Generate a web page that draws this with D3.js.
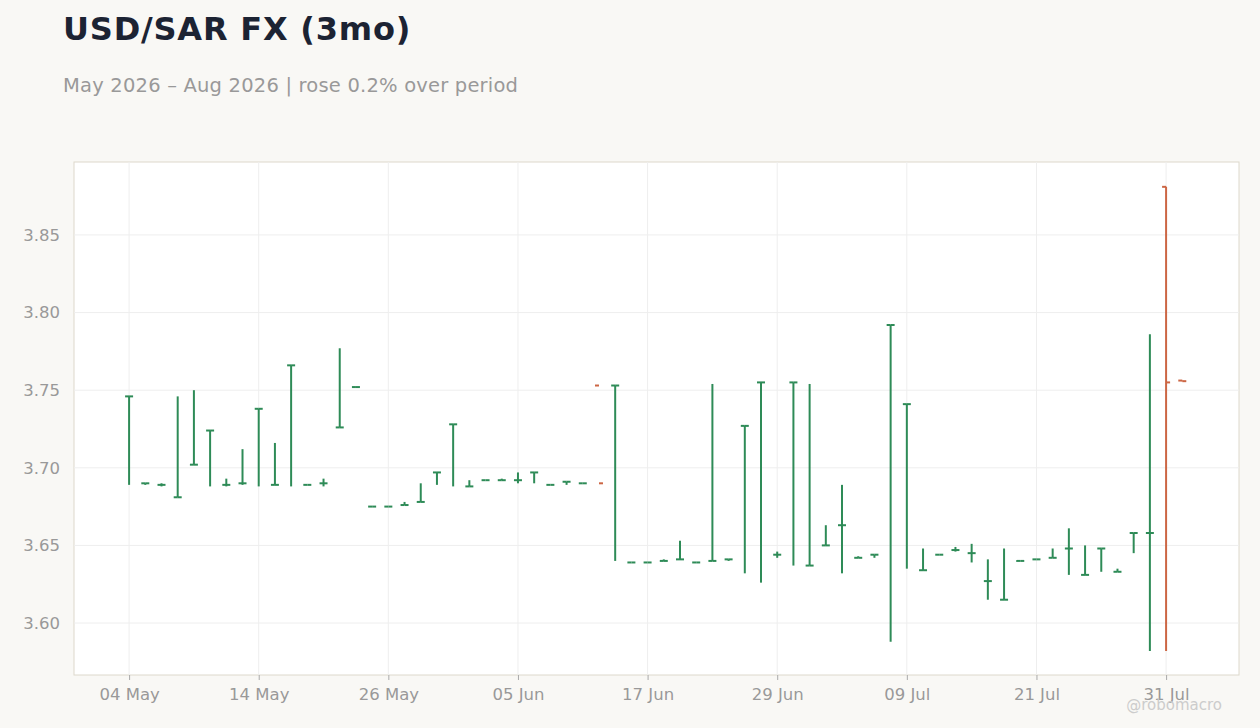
<!DOCTYPE html>
<html><head><meta charset="utf-8">
<script src="https://cdn.jsdelivr.net/npm/d3@7"></script>
<style>body{margin:0;background:#f9f8f5;font-family:"DejaVu Sans",sans-serif;}</style>
</head><body><svg id="c" width="1260" height="728"></svg>
<script>
const opens  = [3.746,3.690,3.689,3.681,3.702,3.724,3.689,3.690,3.738,3.689,3.766,3.689,3.690,3.726,3.752,3.675,3.675,3.676,3.678,3.697,3.728,3.688,3.692,3.692,3.692,3.697,3.689,3.691,3.690,3.753,3.753,3.639,3.639,3.640,3.641,3.639,3.640,3.641,3.727,3.755,3.644,3.755,3.637,3.650,3.663,3.642,3.644,3.792,3.741,3.634,3.644,3.647,3.645,3.627,3.615,3.640,3.641,3.642,3.648,3.631,3.648,3.633,3.658,3.658,3.881,3.7562];
const highs  = [3.746,3.690,3.690,3.746,3.750,3.724,3.693,3.712,3.738,3.716,3.766,3.689,3.693,3.777,3.752,3.675,3.675,3.678,3.690,3.697,3.728,3.692,3.692,3.693,3.697,3.697,3.689,3.691,3.690,null,3.753,3.639,3.639,3.641,3.653,3.639,3.754,3.641,3.727,3.755,3.646,3.755,3.754,3.663,3.689,3.643,3.644,3.792,3.741,3.648,3.644,3.649,3.651,3.641,3.648,3.640,3.641,3.648,3.661,3.650,3.648,3.635,3.658,3.786,3.881,3.7562];
const lows   = [3.689,3.689,3.688,3.681,3.702,3.688,3.688,3.689,3.688,3.689,3.688,3.689,3.688,3.726,3.752,3.675,3.675,3.676,3.678,3.689,3.688,3.688,3.692,3.692,3.690,3.690,3.689,3.689,3.690,null,3.640,3.639,3.639,3.640,3.641,3.639,3.640,3.640,3.632,3.626,3.642,3.637,3.637,3.650,3.632,3.642,3.642,3.588,3.635,3.634,3.644,3.646,3.639,3.615,3.615,3.640,3.641,3.642,3.631,3.631,3.633,3.633,3.645,3.582,3.582,3.7558];
const closes = [3.746,3.690,3.689,3.681,3.702,3.724,3.689,3.690,3.738,3.689,3.766,3.689,3.690,3.726,3.752,3.675,3.675,3.676,3.678,3.697,3.728,3.688,3.692,3.692,3.692,3.697,3.689,3.691,3.690,3.690,3.753,3.639,3.639,3.640,3.641,3.639,3.640,3.641,3.727,3.755,3.644,3.755,3.637,3.650,3.663,3.642,3.644,3.792,3.741,3.634,3.644,3.647,3.645,3.627,3.615,3.640,3.641,3.642,3.648,3.631,3.648,3.633,3.658,3.658,3.755,3.7558];
const tickIdx = [0,8,16,24,32,40,48,56,64];
const tickLabels = ["04 May","14 May","26 May","05 Jun","17 Jun","29 Jun","09 Jul","21 Jul","31 Jul"];
const yTicks = [3.60,3.65,3.70,3.75,3.80,3.85];

const svg = d3.select("#c");
const L=74,R=1239,T=162,B=675;
const x = d3.scaleLinear().domain([-3.4,68.5]).range([L,R]);
const y = d3.scaleLinear().domain([3.5665,3.897]).range([B,T]);
const up="#2e8b57", dn="#cc6644";

svg.append("text").attr("x",63).attr("y",40).attr("font-size",32).attr("font-weight","bold").attr("letter-spacing",0.8).attr("fill","#1c2333").text("USD/SAR FX (3mo)");
svg.append("text").attr("x",63).attr("y",92).attr("font-size",19.5).attr("letter-spacing",0.2).attr("fill","#999").text("May 2026 – Aug 2026 | rose 0.2% over period");

svg.append("rect").attr("x",L).attr("y",T).attr("width",R-L).attr("height",B-T).attr("fill","#fff").attr("stroke","#ddd8cc");
const g=svg.append("g");
g.selectAll(".gy").data(yTicks).join("line").attr("x1",L).attr("x2",R).attr("y1",d=>y(d)).attr("y2",d=>y(d)).attr("stroke","#eee");
g.selectAll(".gx").data(tickIdx).join("line").attr("y1",T).attr("y2",B).attr("x1",d=>x(d)).attr("x2",d=>x(d)).attr("stroke","#eee");

const ya=svg.append("g").attr("transform",`translate(${L},0)`).call(d3.axisLeft(y).tickValues(yTicks).tickFormat(d3.format(".2f")).tickSize(0).tickPadding(14));
const xa=svg.append("g").attr("transform",`translate(0,${B})`).call(d3.axisBottom(x).tickValues(tickIdx).tickFormat((d,i)=>tickLabels[i]).tickSize(5).tickPadding(8));
[ya,xa].forEach(a=>{a.select(".domain").remove();a.selectAll("text").attr("font-size",16.5).attr("fill","#999").attr("font-family","DejaVu Sans");a.selectAll("line").attr("stroke","#aaa");});

const data=opens.map((o,i)=>({i,o,h:highs[i],l:lows[i],c:closes[i]}));
const bars=svg.append("g").selectAll("g").data(data).join("g").attr("stroke",d=>d.c>=d.o?up:dn).attr("stroke-width",2);
bars.filter(d=>d.h!=null&&d.h!==d.l).append("line").attr("x1",d=>x(d.i)).attr("x2",d=>x(d.i)).attr("y1",d=>y(d.h)).attr("y2",d=>y(d.l));
bars.append("line").attr("x1",d=>x(d.i)-4).attr("x2",d=>x(d.i)).attr("y1",d=>y(d.o)).attr("y2",d=>y(d.o));
bars.append("line").attr("x1",d=>x(d.i)).attr("x2",d=>x(d.i)+4).attr("y1",d=>y(d.c)).attr("y2",d=>y(d.c));

svg.append("text").attr("x",1222).attr("y",710).attr("text-anchor","end").attr("font-size",15).attr("fill","#ccc").text("@robomacro");
</script></body></html>
